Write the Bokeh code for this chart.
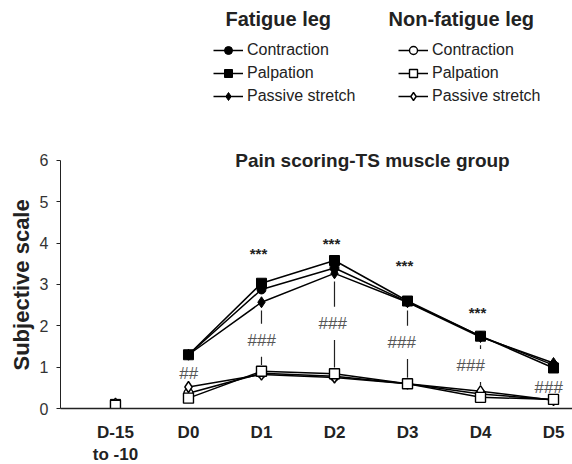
from bokeh.plotting import figure
from bokeh.models import FixedTicker, Legend, LegendItem, Label, Range1d, ColumnDataSource, Title
from bokeh.core.properties import value
from bokeh.embed import file_html
from bokeh.resources import INLINE

# ---------------- data ----------------
days = ["D-15\nto -10", "D0", "D1", "D2", "D3", "D4", "D5"]
xi = list(range(len(days)))

fat_contraction = [0.10, 1.30, 2.88, 3.40, 2.58, 1.75, 1.05]
fat_palpation   = [0.10, 1.30, 3.03, 3.58, 2.60, 1.75, 0.98]
fat_stretch     = [0.10, 1.30, 2.57, 3.27, 2.57, 1.73, 1.10]
non_contraction = [0.10, 0.37, 0.85, 0.78, 0.60, 0.35, 0.21]
non_palpation   = [0.08, 0.25, 0.90, 0.84, 0.60, 0.27, 0.22]
non_stretch     = [0.12, 0.52, 0.82, 0.75, 0.60, 0.42, 0.20]

star_days = [2, 3, 4, 5]
star_y = [3.75, 4.00, 3.46, 2.32]
hash_days = [1, 2, 3, 4, 5, 6]
hash_text = ["##", "###", "###", "###", "###", "###"]
hash_y = [0.85, 1.65, 2.06, 1.60, 1.04, 0.50]
hash_dx = [0, 0, -2, -6, -10, -5]
connector_days = [2, 3, 4, 5]

FONT = "Liberation Sans"

p = figure(width=572, height=464,
           frame_width=512, frame_height=408,
           x_range=Range1d(-0.753, 6.26), y_range=Range1d(0, 9.87),
           output_backend="svg", toolbar_location=None,
           min_border_left=60, min_border_right=0,
           min_border_top=0, min_border_bottom=56)
p.outline_line_color = None
p.grid.visible = False
p.background_fill_color = "white"

# axes
p.xaxis.ticker = FixedTicker(ticks=xi)
p.xaxis.major_label_overrides = {i: d for i, d in zip(xi, days)}
p.xaxis.major_tick_line_color = None
p.xaxis.minor_tick_line_color = None
p.xaxis.axis_line_color = "#222222"
p.xaxis.axis_line_width = 1.5
p.xaxis.major_label_text_font = FONT
p.xaxis.major_label_text_font_style = "bold"
p.xaxis.major_label_text_font_size = "17px"
p.xaxis.major_label_text_color = "#222222"
p.xaxis.major_label_standoff = 8

p.yaxis.bounds = (0, 6)
p.yaxis.ticker = FixedTicker(ticks=[0, 1, 2, 3, 4, 5, 6])
p.yaxis.minor_tick_line_color = None
p.yaxis.major_tick_in = 0
p.yaxis.major_tick_out = 4
p.yaxis.axis_line_color = "#222222"
p.yaxis.major_tick_line_color = "#222222"
p.yaxis.major_label_text_font = FONT
p.yaxis.major_label_text_font_size = "16px"
p.yaxis.major_label_text_color = "#333333"
p.yaxis.major_label_standoff = 8

# y-axis title, aligned along the 0-6 part of the axis
p.add_layout(Title(text="Subjective scale", align="left", offset=38,
                   text_font=FONT, text_font_style="bold",
                   text_font_size="22px", text_color="#222222",
                   standoff=6), "left")

# connectors between fatigue and non-fatigue at significant days
fat_all = [fat_contraction, fat_palpation, fat_stretch]
non_all = [non_contraction, non_palpation, non_stretch]
hy = dict(zip(hash_days, hash_y))
cx, cy0, cy1 = [], [], []
for d in connector_days:
    top = min(s[d] for s in fat_all) - 0.2
    bot = max(s[d] for s in non_all) + 0.15
    gap_hi = hy[d] + 0.4
    gap_lo = hy[d] - 0.4
    if top > gap_hi:
        cx.append(d); cy0.append(top); cy1.append(gap_hi)
    if gap_lo > bot:
        cx.append(d); cy0.append(gap_lo); cy1.append(bot)
p.segment(x0=cx, y0=cy0, x1=cx, y1=cy1, line_color="#222222", line_width=1.2)

# series
specs_f = [("Contraction", fat_contraction, "circle", 9),
           ("Palpation", fat_palpation, "square", 10),
           ("Passive stretch", fat_stretch, "diamond", 11)]
specs_n = [("Contraction", non_contraction, "circle", 9),
           ("Passive stretch", non_stretch, "diamond", 11),
           ("Palpation", non_palpation, "square", 10)]

items_f = []
for lab, vals, mk, sz in specs_f:
    lr = p.line(xi[1:], vals[1:], line_color="black", line_width=1.5)
    sr = p.scatter(xi, vals, marker=mk, size=sz, fill_color="black",
                   line_color="black", line_width=1)
    items_f.append(LegendItem(label=lab, renderers=[lr, sr]))

items_n = {}
for lab, vals, mk, sz in specs_n:
    lr = p.line(xi[1:], vals[1:], line_color="black", line_width=1.5)
    sr = p.scatter(xi, vals, marker=mk, size=sz, fill_color="white",
                   line_color="black", line_width=1.4)
    items_n[lab] = LegendItem(label=lab, renderers=[lr, sr])
items_n = [items_n[lab] for lab, *_ in specs_f]

# significance marks
p.text(x=star_days, y=star_y, text=["***"] * len(star_days),
       text_align="center", text_baseline="middle",
       text_font=value(FONT), text_font_size="15px", text_font_style="bold",
       text_color="#222222", x_offset=-3)
hsrc = ColumnDataSource(dict(x=hash_days, y=hash_y, t=hash_text, dx=hash_dx))
p.text(x="x", y="y", text="t", x_offset="dx", source=hsrc,
       text_align="center", text_baseline="middle",
       text_font=value(FONT), text_font_size="17px", text_font_style="italic",
       text_color="#555555")

# chart title inside plot
p.add_layout(Label(x=3.52, y=6.0, text="Pain scoring-TS muscle group",
                   text_align="center", text_baseline="middle",
                   text_font=FONT, text_font_style="bold",
                   text_font_size="19px", text_color="#222222"))

# legends (location = bottom-left of box, in frame pixels)
for items, loc in ((items_f, (153, 302)), (items_n, (338, 302))):
    leg = Legend(items=items, location=loc, padding=0, margin=0, spacing=3,
                 glyph_width=30, glyph_height=20, label_height=20,
                 label_standoff=4, background_fill_alpha=0,
                 border_line_color=None, label_text_font=FONT,
                 label_text_font_size="16px", label_text_color="#222222")
    p.add_layout(leg)

for txt, lx in (("Fatigue leg", 165), ("Non-fatigue leg", 328)):
    p.add_layout(Label(x=lx, y=390, x_units="screen", y_units="screen",
                       text=txt, text_baseline="middle", text_font=FONT,
                       text_font_style="bold", text_font_size="20px",
                       text_color="#222222"))

open("out.html", "w").write(file_html(p, INLINE))
